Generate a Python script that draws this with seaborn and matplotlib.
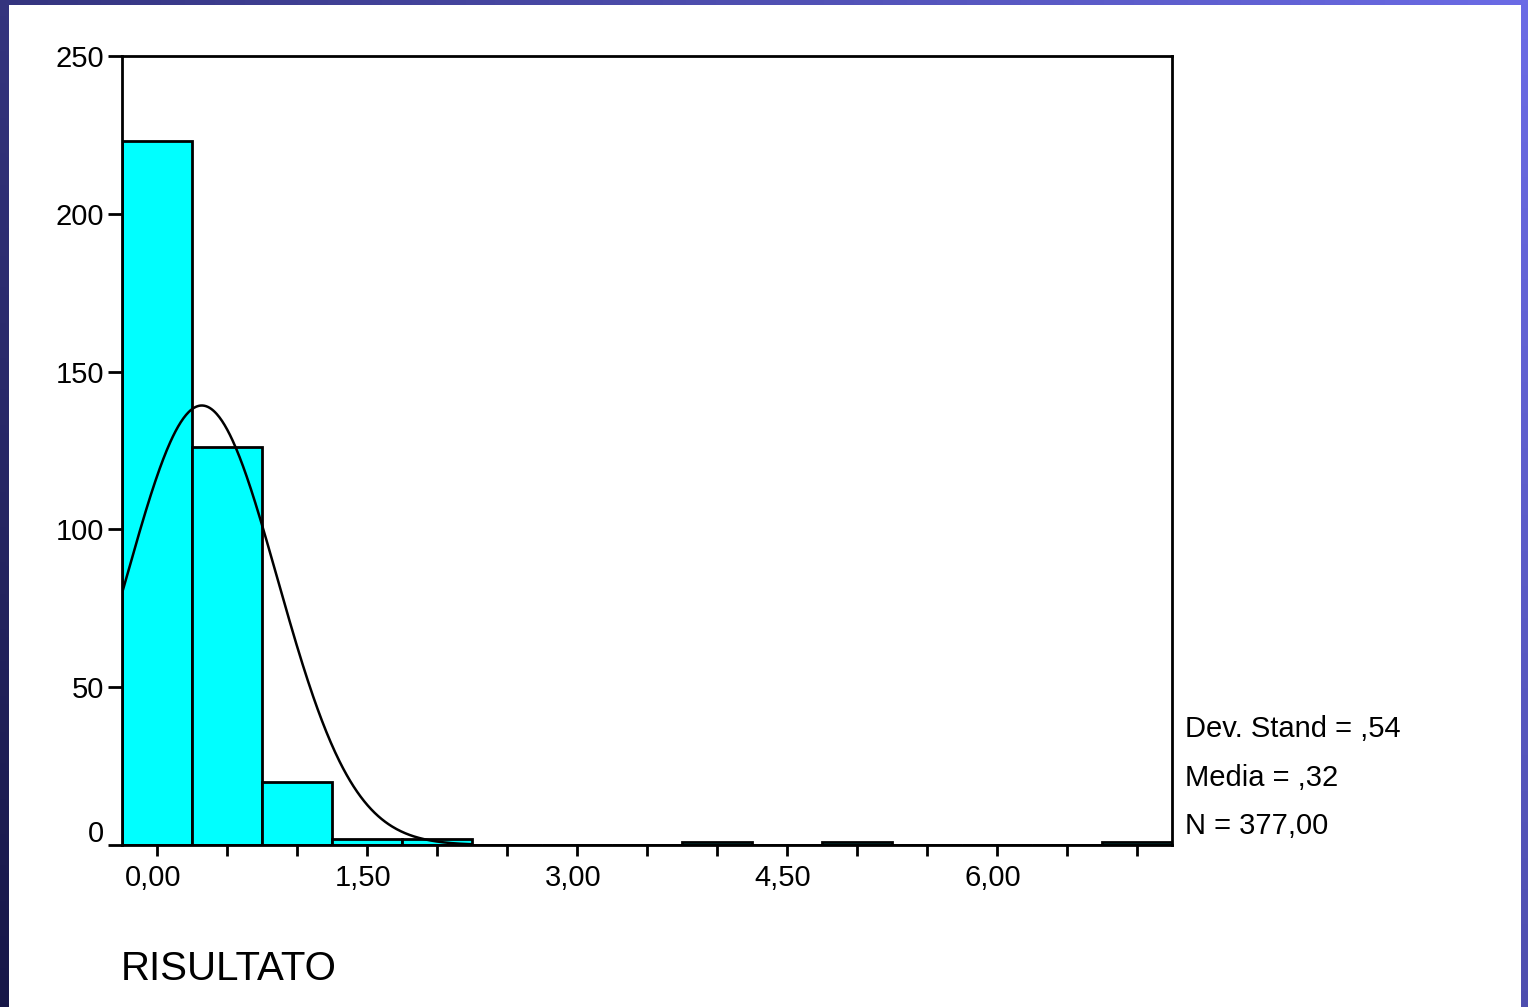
import numpy as np
import pandas as pd
import matplotlib
matplotlib.use("Agg")
import matplotlib.pyplot as plt
import seaborn as sns
from matplotlib.transforms import ScaledTranslation
from matplotlib.patches import Rectangle

# ---- data ----
bin_centers = [0.0, 0.5, 1.0, 1.5, 2.0, 4.0, 5.0, 7.0]
bin_counts = [223, 126, 20, 2, 2, 1, 1, 1]
stat_mean = 0.32
stat_sd = 0.54
stat_n = 377
bin_width = 0.5
x_tick_values = [0.0, 1.5, 3.0, 4.5, 6.0]
x_tick_labels = ["0,00", "1,50", "3,00", "4,50", "6,00"]
y_tick_values = [0, 50, 100, 150, 200, 250]
stats_lines = ["Dev. Stand = ,54", "Media = ,32", "N = 377,00"]
x_title = "RISULTATO"

sns.set_theme(style="white")
plt.rcParams["font.family"] = ["Liberation Sans", "DejaVu Sans"]

W, H, DPI = 1528, 1007, 100
fig = plt.figure(figsize=(W / DPI, H / DPI), dpi=DPI)

# slide background: blue/purple gradient frame + white content area
bg = fig.add_axes([0, 0, 1, 1], zorder=-10)
gx = np.linspace(0, 1, 256)
gy = np.linspace(0, 1, 256)
GX, GY = np.meshgrid(gx, gy)
t = np.clip(0.65 * GX + 0.35 * (1 - GY), 0, 1)
c0 = np.array([0.09, 0.09, 0.28])
c1 = np.array([0.42, 0.42, 0.90])
img = c0[None, None, :] * (1 - t[..., None]) + c1[None, None, :] * t[..., None]
bg.imshow(img, extent=[0, 1, 0, 1], aspect="auto", origin="upper")
bg.add_patch(Rectangle((9 / W, 0), (1521 - 9) / W, (H - 5) / H,
                       facecolor="white", edgecolor="none", transform=bg.transAxes))
bg.set_xlim(0, 1)
bg.set_ylim(0, 1)
bg.axis("off")

# main axes
left, right = 122 / W, 1172 / W
bottom, top = 1 - 845 / H, 1 - 56 / H
ax = fig.add_axes([left, bottom, right - left, top - bottom])
ax.set_facecolor("white")

df = pd.DataFrame({"x": bin_centers, "w": bin_counts})
sns.histplot(data=df, x="x", weights="w", binwidth=bin_width, binrange=(-0.25, 7.25),
             color="#00ffff", edgecolor="black", linewidth=2.0, alpha=1.0, ax=ax)

# fitted normal curve
xs = np.linspace(-0.25, 2.25, 400)
ys = stat_n * bin_width / (stat_sd * np.sqrt(2 * np.pi)) * np.exp(-0.5 * ((xs - stat_mean) / stat_sd) ** 2)
sns.lineplot(x=xs, y=ys, color="black", linewidth=1.8, ax=ax)

ax.set_xlim(-0.25, 7.25)
ax.set_ylim(0, 250)

for s in ax.spines.values():
    s.set_visible(True)
    s.set_color("black")
    s.set_linewidth(2.0)

ax.set_xticks(x_tick_values)
ax.set_xticklabels(x_tick_labels)
ax.set_xticks(np.arange(0.5, 7.25, 0.5), minor=True)
ax.set_yticks(y_tick_values)
ax.set_yticklabels([str(v) for v in y_tick_values])
ax.tick_params(axis="x", which="both", direction="out", length=8, width=2,
               color="black", bottom=True, labelsize=21, pad=6, labelcolor="black")
ax.tick_params(axis="y", which="major", direction="out", length=10, width=2,
               color="black", left=True, labelsize=21, pad=3, labelcolor="black")
ax.set_xlabel("")
ax.set_ylabel("")

# shift labels slightly as in the original
for lbl in ax.get_xticklabels():
    lbl.set_transform(lbl.get_transform() + ScaledTranslation(-4 / DPI, 0, fig.dpi_scale_trans))
ylbls = ax.get_yticklabels()
ylbls[0].set_transform(ylbls[0].get_transform() + ScaledTranslation(0, 14 / DPI, fig.dpi_scale_trans))

# statistics box text
for i, line in enumerate(stats_lines):
    fig.text(1185 / W, 1 - (729 + 48.5 * i) / H, line, fontsize=21, color="black",
             ha="left", va="center")

fig.text(121 / W, 1 - 969 / H, x_title, fontsize=29, color="black", ha="left", va="center")

fig.savefig("out.png", dpi=DPI)
